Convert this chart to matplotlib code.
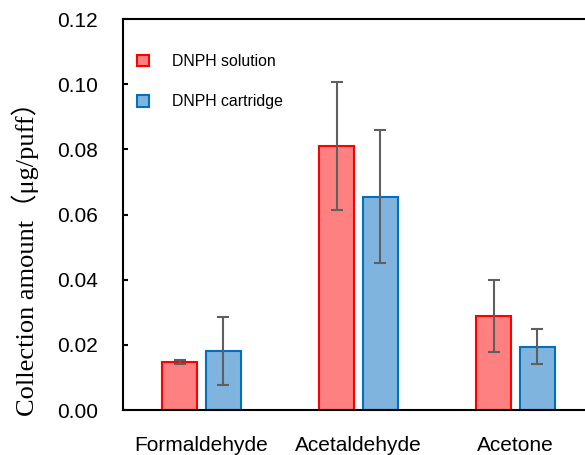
import matplotlib
matplotlib.use("Agg")
import matplotlib.pyplot as plt
from matplotlib.patches import Patch
import numpy as np

categories = ["Formaldehyde", "Acetaldehyde", "Acetone"]
solution_vals = [0.0148, 0.0810, 0.0289]
solution_err = [0.0006, 0.0197, 0.0110]
cartridge_vals = [0.0181, 0.0655, 0.0194]
cartridge_err = [0.0105, 0.0203, 0.0054]
series_names = ["DNPH solution", "DNPH cartridge"]
yticks = [0.00, 0.02, 0.04, 0.06, 0.08, 0.10, 0.12]

W, H = 585, 455
fig = plt.figure(figsize=(W / 100, H / 100), dpi=100)
ax = fig.add_axes([123 / W, 45 / H, 471 / W, 391 / H])

x = np.arange(len(categories))
bw = 0.22
off = 0.14
red_face, red_edge = "#FF8080", "#FF0000"
blue_face, blue_edge = "#7EB4DE", "#0070C0"
err_kw = dict(ecolor="#5F5F5F", elinewidth=1.5, capsize=4.3, capthick=1.5)

ax.bar(x - off, solution_vals, bw, color=red_face, edgecolor=red_edge, linewidth=1.5,
       yerr=solution_err, error_kw=err_kw, zorder=2)
ax.bar(x + off, cartridge_vals, bw, color=blue_face, edgecolor=blue_edge, linewidth=1.5,
       yerr=cartridge_err, error_kw=err_kw, zorder=2)

ax.set_xlim(-0.5, 2.5)
ax.set_ylim(0, 0.12)
ax.set_yticks(yticks)
ax.set_yticklabels([f"{v:.2f}" for v in yticks])
ax.set_xticks(x)
ax.set_xticklabels(categories)

for s in ["left", "bottom", "top", "right"]:
    ax.spines[s].set_linewidth(1.5)
ax.tick_params(axis="y", direction="in", length=3.6, width=1.5, pad=18, labelsize=15,
               labelfontfamily="Liberation Sans")
ax.tick_params(axis="x", length=0, pad=19, labelsize=15, labelfontfamily="Liberation Sans")

fig.text(25 / W, 1 - 252 / H, "Collection amount（μg/puff）", rotation=90,
         ha="center", va="center", fontsize=19,
         family=["Liberation Serif", "Noto Sans CJK SC"])

handles = [Patch(facecolor=red_face, edgecolor=red_edge, linewidth=1.5),
           Patch(facecolor=blue_face, edgecolor=blue_edge, linewidth=1.5)]
ax.legend(handles, series_names, loc="upper left",
          bbox_to_anchor=(14 / 471, 1 - 35 / 391), frameon=False,
          prop={"family": "Liberation Sans", "size": 11.4},
          handlelength=0.75, handleheight=0.75, handletextpad=1.45,
          labelspacing=1.6, borderpad=0, borderaxespad=0)

fig.savefig("out.png", dpi=100)
